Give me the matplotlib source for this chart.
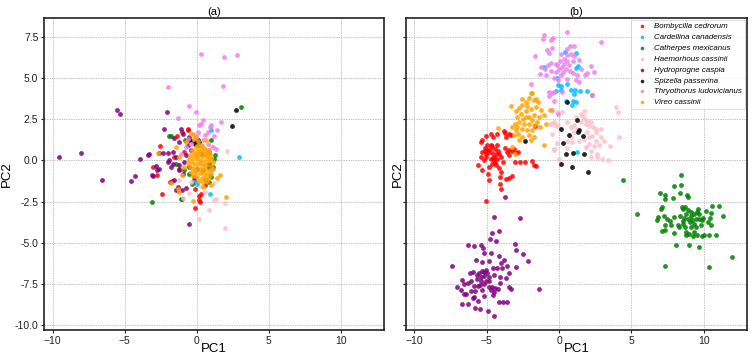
import matplotlib
matplotlib.use("Agg")
import matplotlib.pyplot as plt

plt.rcParams["font.family"] = ["Liberation Sans", "DejaVu Sans"]

SPECIES = [
    "Bombycilla cedrorum",
    "Cardellina canadensis",
    "Catherpes mexicanus",
    "Haemorhous cassinii",
    "Hydroprogne caspia",
    "Spizella passerina",
    "Thryothorus ludovicianus",
    "Vireo cassinii",
]
COLORS = ["red", "deepskyblue", "green", "pink", "purple", "black", "violet", "orange"]

# ---- panel (a): PCA on raw values, everything piles up near the origin ----
A_BOMBYCILLA = [(-2.55, 0.87), (-0.6, 1.87), (-1.02, 1.72), (-1.39, 1.46), (-3.06, -0.41), (-2.78, -0.87),
                (-2.41, -2.03), (-1.85, -1.32), (-1.2, -1.78), (-1.32, -1.82), (-0.09, -1.72), (0.3, -2.03),
                (0.14, -2.43), (0.25, -2.52), (-0.11, -2.88), (-1.2, -0.51), (0.19, -2.19), (-0.62, 1.93),
                (-1.6, 0.2), (-0.9, 0.5), (-0.2, -1.2), (0.6, -1.5), (-1.7, -1.25)]
A_CARDELLINA = [(1.02, 1.83), (2.92, 0.2), (0.93, -2.03), (0.05, -1.42), (0.9, -0.9), (-0.2, -1.3)]
A_CATHERPES = [(3.08, 3.25), (-3.1, -2.54), (-1.9, 1.48), (-1.76, 1.46), (-1.02, -2.33), (0.46, -0.61),
               (1.02, 1.22), (0.83, 0.51), (1.11, -0.41), (0.88, -1.32), (-0.83, 1.26), (1.23, 0.1),
               (-0.85, -0.61), (-1.43, -0.2), (-0.51, -0.81), (1.0, -1.01), (0.65, -1.22), (-1.09, -2.33),
               (-0.3, -1.45), (1.3, 0.3)]
A_HAEMORHOUS = [(2.1, 0.55), (0.83, -3.0), (0.19, -3.55), (1.99, -2.6), (1.99, -4.12), (1.23, -2.39),
                (-0.97, -2.27), (-1.2, -1.22), (1.35, -2.33), (0.6, -1.9), (-0.4, -1.3), (0.3, -1.55),
                (1.2, -1.4), (-0.5, -2.0), (0.1, 1.6), (1.0, 0.9)]
A_HYDROPROGNE = [(-9.54, 0.2), (-8.03, 0.45), (-6.57, -1.22), (-5.56, 3.08), (-5.32, 2.8), (-4.56, -1.26),
                 (-4.31, -0.97), (-3.96, 0.1), (-3.36, 0.3), (-3.1, -0.91), (-2.78, -0.61), (-2.82, -0.34),
                 (-2.59, 0.47), (-2.36, 0.47), (-2.29, 1.93), (-2.08, 2.92), (-1.44, -1.83), (-0.56, -3.89),
                 (-1.09, 1.93), (-0.97, 1.62), (-0.56, 1.42), (-1.55, 1.38), (-1.25, 1.12), (-3.29, 0.37),
                 (-1.66, 0.51), (-1.43, 0.2), (-2.01, -0.1), (-1.66, -0.2), (-1.78, -0.41), (-1.2, -0.3),
                 (-0.86, -0.1), (-0.74, 0.3), (-0.39, 0.61), (-0.51, -0.41), (-2.59, -0.51), (-3.05, -0.97),
                 (-1.55, -1.22), (-1.32, -1.62), (-0.74, -1.66), (-1.02, -1.82), (-0.16, -1.01), (-0.97, -0.81),
                 (-1.25, -0.61), (-0.62, 0.91), (-2.0, 0.45), (-1.9, 0.0), (-0.3, 1.2), (0.0, -0.5), (0.3, 0.4)]
A_SPIZELLA = [(2.73, 3.04), (2.45, 2.07), (-0.51, 1.22), (0.07, 1.26), (0.19, 1.12), (0.88, -0.24),
              (0.84, -0.41), (-0.04, 1.18), (-0.1, 1.0), (0.1, 0.95)]
A_THRYOTHORUS = [(0.3, 6.45), (1.92, 6.29), (2.8, 6.37), (-1.97, 4.46), (1.8, 4.52), (-0.51, 3.27),
                 (-0.05, 2.94), (-1.32, 2.54), (1.67, 2.33), (1.41, 1.87), (0.46, 2.43), (0.93, 2.03),
                 (0.76, 1.72), (0.19, 2.13), (0.3, 2.23), (1.0, 2.13), (-0.28, 1.62), (-0.04, 1.42),
                 (0.42, 1.22), (0.77, 1.01), (1.11, 0.81), (1.35, 0.71), (0.88, 0.61), (-0.39, 1.01),
                 (-0.74, 0.81), (-1.09, 0.41), (0.6, -0.3), (1.0, -0.61), (-0.04, 0.41), (0.3, 0.91),
                 (0.07, 1.72), (1.2, 1.5), (0.55, 1.55), (-0.6, 1.3)]
A_VIREO = [(0.12, 0.95), (0.35, 0.88), (-0.08, 0.78), (0.22, 0.7), (0.5, 0.74), (0.78, 0.62), (-0.32, 0.6),
           (0.05, 0.55), (0.33, 0.5), (0.62, 0.45), (0.9, 0.38), (-0.45, 0.35), (-0.18, 0.38), (0.15, 0.3),
           (0.42, 0.25), (0.7, 0.18), (1.02, 0.12), (-0.55, 0.1), (-0.28, 0.14), (0.0, 0.08), (0.28, 0.02),
           (0.55, -0.02), (0.85, -0.05), (1.12, -0.12), (-0.6, -0.18), (-0.35, -0.12), (-0.1, -0.2),
           (0.18, -0.25), (0.45, -0.28), (0.72, -0.3), (1.0, -0.35), (-0.48, -0.42), (-0.22, -0.45),
           (0.05, -0.5), (0.32, -0.52), (0.6, -0.55), (0.88, -0.6), (1.15, -0.5), (-0.38, -0.7),
           (-0.1, -0.75), (0.2, -0.78), (0.48, -0.8), (0.75, -0.85), (1.0, -0.8), (-0.25, -0.98),
           (0.05, -1.02), (0.35, -1.05), (0.62, -1.08), (0.88, -1.1), (0.15, -1.25), (0.45, -1.3),
           (0.72, -1.28), (0.25, -0.1), (0.6, 0.3), (-0.05, 0.25), (0.4, -0.65), (0.1, 0.45), (0.85, 0.2),
           (-0.15, -0.6), (0.55, 0.6), (-0.2, 1.3), (-0.1, 1.5), (0.1, 1.15),
           (-1.44, 0.81), (-2.71, 0.45), (-1.2, 0.2), (-0.9, -0.41), (-1.2, -1.93), (-1.78, -1.38),
           (-0.28, -2.47), (0.42, -1.62), (1.62, -0.87), (1.39, -1.07), (1.02, -1.52), (2.04, -2.23),
           (-1.02, -0.91), (-0.39, 1.58), (-0.74, 1.12), (0.65, 1.22), (-1.3, -1.75)]

# ---- panel (b): species separate into clusters ----
B_BOMBYCILLA = [(-5.42, 1.12), (-5.3, 1.22), (-5.03, 1.46), (-4.73, 1.58), (-4.57, 1.42), (-4.27, 1.62),
                (-3.81, 1.78), (-3.74, 1.66), (-3.46, 1.62), (-3.34, 1.52), (-3.64, 1.42), (-4.96, 0.91),
                (-5.12, 0.77), (-4.8, 0.71), (-4.61, 0.85), (-4.43, 0.71), (-4.27, 0.91), (-4.89, 0.51),
                (-4.66, 0.45), (-4.38, 0.41), (-4.15, 0.37), (-5.07, 0.37), (-5.3, 0.51), (-5.42, 0.2),
                (-5.03, 0.2), (-4.73, 0.1), (-4.5, -0.04), (-4.27, 0.1), (-4.03, 0.2), (-3.87, -0.1),
                (-4.66, -0.2), (-4.33, -0.3), (-4.84, -0.41), (-4.15, -0.45), (-5.58, -0.3), (-5.35, -0.61),
                (-4.89, -0.85), (-4.84, -1.18), (-4.01, -0.71), (-4.1, -1.01), (-4.1, -1.42), (-4.0, -1.76),
                (-3.64, -1.12), (-3.46, -1.05), (-3.27, -0.97), (-3.57, 0.51), (-3.46, 0.65), (-3.27, 0.57),
                (-3.11, 0.71), (-3.0, 0.45), (-2.81, 0.51), (-3.04, -0.1), (-2.72, -0.1), (-2.35, -0.1),
                (-1.84, -0.06), (-1.73, -0.3), (-1.57, -0.37), (-3.74, 0.77), (-3.46, 0.31), (-5.19, 0.0),
                (-4.5, 0.2), (-5.05, -2.49), (-1.68, 2.07), (-4.95, 0.6), (-4.6, 0.15), (-4.4, -0.15),
                (-5.15, 0.55), (-4.7, 0.95), (-4.2, 0.55)]
B_CARDELLINA = [(1.15, 6.53), (0.42, 6.57), (-1.04, 5.66), (1.15, 5.62), (1.32, 5.72), (-0.16, 4.99),
                (-0.07, 4.58), (0.12, 4.54), (-0.18, 4.2), (0.16, 4.24), (0.53, 4.64), (0.81, 4.28),
                (1.08, 4.24), (1.04, 4.03), (1.45, 4.18), (1.96, 4.22), (2.29, 3.97), (0.99, 3.63),
                (1.15, 3.53), (0.92, 3.37), (0.46, 3.63), (1.22, 0.49)]
B_CATHERPES = [(4.43, -1.22), (5.38, -3.24), (8.45, -0.91), (7.98, -1.56), (8.45, -1.52), (6.97, -2.01),
               (7.31, -2.09), (7.29, -2.37), (7.85, -2.29), (8.35, -1.97), (8.86, -2.13), (8.93, -2.25),
               (7.15, -2.86), (7.06, -2.94), (8.51, -2.82), (8.68, -2.82), (8.88, -3.04), (9.14, -3.14),
               (9.53, -3.14), (9.65, -3.24), (10.13, -3.06), (10.54, -2.76), (11.05, -2.76), (11.35, -3.37),
               (10.5, -3.18), (7.27, -3.35), (6.81, -3.47), (6.76, -3.61), (7.43, -3.55), (7.96, -3.45),
               (8.61, -3.51), (8.93, -3.55), (9.21, -3.65), (9.02, -3.75), (9.32, -3.85), (9.46, -3.55),
               (9.69, -3.55), (9.92, -3.51), (10.43, -3.51), (9.85, -3.65), (7.64, -3.71), (7.29, -3.95),
               (7.71, -3.95), (8.19, -3.95), (8.54, -3.85), (8.7, -4.05), (9.11, -4.05), (9.46, -4.05),
               (9.81, -3.95), (10.5, -3.95), (7.11, -4.26), (7.34, -4.22), (7.96, -4.4), (8.31, -4.05),
               (8.77, -4.36), (9.0, -4.5), (9.3, -4.36), (9.53, -4.52), (9.88, -4.6), (10.04, -4.52),
               (10.38, -4.56), (10.84, -4.52), (9.28, -4.62), (8.81, -4.52), (8.1, -5.13), (9.0, -5.11),
               (9.69, -5.29), (11.93, -5.88), (7.34, -6.39), (10.36, -6.45), (8.54, -2.94), (9.34, -3.24),
               (8.38, -3.35), (8.77, -3.24), (9.11, -3.35), (9.62, -2.94), (8.56, -3.71), (10.31, -3.75)]
B_HAEMORHOUS = [(-0.11, 2.96), (0.23, 2.92), (-0.34, 2.31), (-0.58, 2.21), (-0.07, 2.11), (0.58, 2.31),
                (0.81, 2.01), (1.04, 2.15), (1.5, 2.82), (1.69, 2.68), (1.78, 2.51), (1.96, 2.41),
                (2.19, 2.31), (2.08, 2.11), (2.38, 2.01), (2.54, 1.91), (1.85, 2.21), (1.5, 2.31),
                (1.27, 1.91), (1.04, 1.7), (0.81, 1.4), (0.58, 1.19), (0.92, 1.09), (1.73, 1.3),
                (2.08, 1.4), (2.31, 1.5), (2.54, 1.19), (2.88, 1.4), (3.12, 1.19), (2.08, 0.99),
                (2.42, 0.89), (2.77, 0.93), (1.85, 0.79), (2.19, 0.59), (2.65, 0.38), (2.24, 0.18),
                (2.65, 0.18), (3.39, 0.04), (3.0, 0.08), (3.53, 0.85), (4.11, 1.4), (4.09, 2.96),
                (3.92, 3.22), (-0.34, 0.69), (-0.16, 1.05), (0.58, 0.73), (1.39, 1.19), (1.96, 1.7),
                (2.54, 1.7), (2.88, 1.91), (1.73, 3.02), (1.15, 2.62), (-0.57, 2.23), (-0.34, 0.61),
                (-0.27, 2.13), (0.0, 0.1), (-0.46, 1.62)]
B_HYDROPROGNE = [(-4.47, -3.41), (-2.7, -3.51), (-4.61, -4.42), (-4.13, -4.28), (-4.75, -4.79), (-4.33, -4.87),
                 (-6.32, -5.15), (-5.88, -5.21), (-5.37, -5.15), (-5.26, -5.33), (-5.17, -5.6), (-4.7, -5.64),
                 (-3.02, -5.09), (-2.95, -5.45), (-2.47, -5.66), (-2.12, -6.1), (-4.13, -5.82), (-5.72, -6.02),
                 (-5.35, -6.2), (-4.82, -6.14), (-3.83, -6.04), (-4.0, -6.23), (-7.43, -6.43), (-6.16, -6.83),
                 (-5.95, -6.79), (-5.67, -6.94), (-5.3, -6.73), (-5.07, -6.67), (-4.96, -6.83), (-5.17, -7.04),
                 (-5.42, -7.3), (-5.7, -7.22), (-6.09, -7.3), (-4.57, -6.51), (-4.27, -6.53), (-3.94, -6.55),
                 (-3.62, -6.39), (-3.0, -6.49), (-3.46, -6.85), (-3.67, -7.16), (-4.1, -7.06), (-4.52, -6.94),
                 (-4.84, -7.3), (-4.08, -7.42), (-6.69, -7.26), (-7.08, -7.7), (-6.57, -7.5), (-6.78, -7.87),
                 (-6.41, -8.13), (-5.88, -7.62), (-5.83, -7.91), (-5.6, -7.62), (-5.35, -7.87), (-5.21, -8.21),
                 (-5.58, -8.52), (-5.88, -8.27), (-5.95, -8.35), (-6.27, -8.72), (-6.73, -8.7), (-5.81, -8.94),
                 (-5.49, -9.02), (-4.84, -7.7), (-4.61, -7.68), (-4.43, -7.75), (-4.22, -7.83), (-4.5, -8.01),
                 (-4.73, -7.87), (-4.54, -8.17), (-4.15, -8.58), (-3.9, -8.62), (-3.6, -8.62), (-3.46, -7.66),
                 (-3.3, -7.79), (-1.38, -7.79), (-4.91, -9.12), (-4.47, -9.47), (-5.19, -6.79), (-5.53, -6.85),
                 (-5.42, -7.06), (-5.07, -7.3), (-4.84, -7.06), (-5.46, -7.54), (-5.19, -7.5), (-6.3, -7.46),
                 (-6.57, -8.11), (-6.09, -7.95), (-3.72, -2.25)]
B_SPIZELLA = [(0.55, 3.53), (0.14, 1.93), (0.67, 1.56), (0.28, 1.05), (0.48, 0.39), (0.99, 0.45),
              (1.72, 0.39), (0.11, -0.22), (0.92, -0.43), (2.02, -0.69), (1.26, 2.43), (1.29, 1.72),
              (1.38, 1.83), (1.63, 1.48), (-2.37, 1.18)]
B_THRYOTHORUS = [(-1.04, 7.62), (0.53, 7.79), (-0.39, 7.42), (-0.53, 7.28), (-1.13, 7.34), (2.93, 7.18),
                 (-0.46, 6.83), (-1.68, 6.33), (-0.85, 6.67), (-0.69, 6.53), (0.76, 6.93), (1.04, 6.93),
                 (0.58, 6.77), (0.81, 6.43), (1.04, 6.33), (0.35, 6.16), (0.07, 6.0), (0.58, 6.06),
                 (0.99, 6.0), (1.39, 6.12), (-0.11, 5.76), (-0.53, 5.92), (-0.76, 5.76), (-0.99, 5.52),
                 (-1.31, 5.25), (-1.27, 5.66), (-0.92, 5.15), (-0.53, 5.45), (-0.23, 5.35), (0.0, 5.56),
                 (0.23, 5.66), (0.46, 5.56), (0.3, 5.35), (0.12, 5.19), (0.76, 5.45), (0.99, 5.31),
                 (1.27, 5.15), (1.5, 5.56), (1.78, 5.19), (2.19, 5.72), (1.96, 5.31), (-0.34, 4.99),
                 (-0.07, 4.85), (0.58, 4.95), (1.15, 4.85), (1.39, 4.74), (-0.69, 4.14), (-0.34, 4.14),
                 (-1.96, 4.64), (0.23, 4.14), (0.35, 5.86), (-0.23, 5.86), (0.69, 5.76), (0.53, 6.37),
                 (0.12, 6.47), (2.42, 5.39), (2.25, 3.96), (-0.48, 3.08), (-0.69, 3.89), (-0.34, 3.59),
                 (-0.04, 2.84), (-0.51, 4.1)]
B_VIREO = [(-2.77, 3.2), (-2.58, 3.35), (-2.31, 3.55), (-1.94, 4.1), (-2.07, 3.81), (-1.61, 3.75),
           (-1.43, 3.55), (-3.34, 3.28), (-3.0, 3.0), (-2.65, 2.84), (-2.31, 3.0), (-1.96, 3.14),
           (-1.61, 3.24), (-1.27, 3.04), (-1.04, 2.74), (-1.38, 2.64), (-1.73, 2.74), (-2.07, 2.64),
           (-2.49, 2.53), (-2.88, 2.64), (-2.77, 2.33), (-3.04, 2.23), (-3.23, 2.03), (-2.42, 2.23),
           (-2.07, 2.23), (-1.73, 2.13), (-1.5, 2.33), (-1.34, 2.03), (-1.84, 1.83), (-2.19, 1.86),
           (-2.53, 1.93), (-3.0, 1.83), (-2.81, 1.62), (-3.11, 1.52), (-2.07, 1.52), (-1.73, 1.42),
           (-1.96, 1.22), (-2.53, 1.42), (-1.04, 0.91), (-3.23, 0.81), (-3.04, 0.41), (-2.77, 1.26),
           (-2.31, 2.64), (-0.92, 2.23), (-4.23, 1.97), (-1.89, 4.07), (-2.53, 3.72), (-1.73, 3.64),
           (-0.62, 3.08), (-2.2, 3.3), (-2.9, 2.0), (-1.9, 2.45)]

A_DATA = [A_BOMBYCILLA, A_CARDELLINA, A_CATHERPES, A_HAEMORHOUS, A_HYDROPROGNE, A_SPIZELLA, A_THRYOTHORUS, A_VIREO]
B_DATA = [B_BOMBYCILLA, B_CARDELLINA, B_CATHERPES, B_HAEMORHOUS, B_HYDROPROGNE, B_SPIZELLA, B_THRYOTHORUS, B_VIREO]

fig = plt.figure(figsize=(7.52, 3.58), dpi=100)
ax_a = fig.add_axes([0.0585, 0.0782, 0.452, 0.8715])
ax_b = fig.add_axes([0.5395, 0.0782, 0.454, 0.8715], sharey=ax_a)

for ax, data, title in [(ax_a, A_DATA, "(a)"), (ax_b, B_DATA, "(b)")]:
    ax.grid(True, color="#c4c4c4", linewidth=0.7, linestyle=(0, (1.5, 1)), zorder=0)
    for pts, name, col in zip(data, SPECIES, COLORS):
        xs = [p[0] for p in pts]
        ys = [p[1] for p in pts]
        ax.scatter(xs, ys, s=12, color=col, alpha=0.85, linewidths=0, label=name, zorder=2)
    ax.set_xlim(-10.6, 13.0)
    ax.set_ylim(-10.3, 8.64)
    ax.set_xticks([-10, -5, 0, 5, 10])
    ax.set_yticks([-10, -7.5, -5, -2.5, 0, 2.5, 5, 7.5])
    ax.set_title(title, fontsize=8, pad=2)
    ax.set_xlabel("PC1", fontsize=9.5, labelpad=-1.5)
    ax.tick_params(labelsize=7.5, length=2.5, width=0.8, pad=1.5, colors="#222222")
    for sp in ax.spines.values():
        sp.set_linewidth(1.2)
        sp.set_color("#222222")

ax_a.set_ylabel("PC2", fontsize=9.5, labelpad=1)
ax_a.yaxis.set_major_formatter(matplotlib.ticker.FormatStrFormatter("%.1f"))
ax_b.set_ylabel("PC2", fontsize=9.5, labelpad=-1)
plt.setp(ax_b.get_yticklabels(), visible=False)

leg = ax_b.legend(loc="upper right", markerscale=0.75, handletextpad=0.6, handlelength=2.0,
                  labelspacing=0.42, borderpad=0.35, frameon=True, fancybox=False,
                  prop={"style": "italic", "size": 5.7}, borderaxespad=0.25)
leg.get_frame().set_edgecolor("#cccccc")
leg.get_frame().set_linewidth(0.6)

plt.savefig("out.png", dpi=100)
